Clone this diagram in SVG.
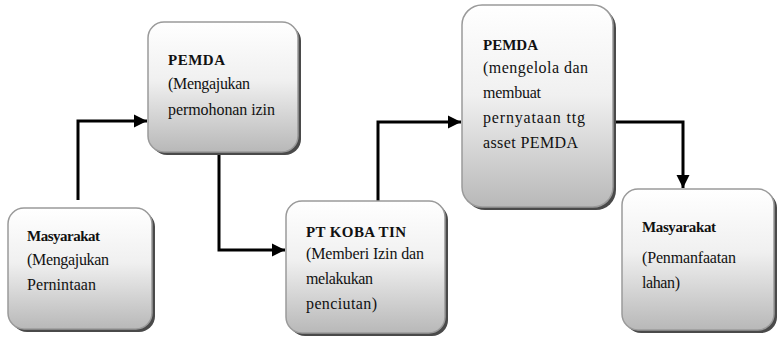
<svg xmlns="http://www.w3.org/2000/svg" width="778" height="342" viewBox="0 0 778 342">
<defs>
<linearGradient id="g" x1="0" y1="0" x2="0" y2="1">
<stop offset="0" stop-color="#ffffff"/>
<stop offset="0.45" stop-color="#f0f0f0"/>
<stop offset="1" stop-color="#b8b8b8"/>
</linearGradient>
<marker id="ah" viewBox="0 0 10 10" refX="10" refY="5" markerWidth="4.5" markerHeight="4.5" orient="auto" markerUnits="strokeWidth">
<path d="M0,0 L10,5 L0,10 z" fill="#000"/>
</marker>
</defs>
<style>
.sh{fill:#4a4a4a}
.bx{fill:url(#g);stroke:#9a9a9a;stroke-width:1.5}
.t{font-family:"Liberation Serif","Times New Roman",serif;font-size:16px;fill:#111}
.b{font-weight:bold;font-size:15px}
.c{fill:none;stroke:#000;stroke-width:3;marker-end:url(#ah)}
</style>
<g id="connectors">
<path class="c" d="M78,200 V121 H147"/>
<path class="c" d="M219,152 V250 H285"/>
<path class="c" d="M378,201 V122 H461"/>
<path class="c" d="M613,122 H683 V188"/>
</g>
<g id="n1">
<rect class="sh" x="11" y="211" width="144" height="121" rx="16"/>
<rect class="bx" x="8" y="208" width="144" height="121" rx="16"/>
<text class="t b" x="27" y="241" textLength="73">Masyarakat</text>
<text class="t" x="27" y="265" textLength="82">(Mengajukan</text>
<text class="t" x="27" y="290" textLength="69">Pernintaan</text>
</g>
<g id="n2">
<rect class="sh" x="151" y="25" width="150" height="130" rx="16"/>
<rect class="bx" x="148" y="22" width="150" height="130" rx="16"/>
<text class="t b" x="168" y="65" textLength="57">PEMDA</text>
<text class="t" x="168" y="89" textLength="82">(Mengajukan</text>
<text class="t" x="168" y="115" textLength="107">permohonan izin</text>
</g>
<g id="n3">
<rect class="sh" x="289" y="204" width="159" height="132" rx="16"/>
<rect class="bx" x="286" y="201" width="159" height="132" rx="16"/>
<text class="t b" x="306" y="237" textLength="100">PT KOBA TIN</text>
<text class="t" x="306" y="259" textLength="118">(Memberi Izin dan</text>
<text class="t" x="306" y="284" textLength="67">melakukan</text>
<text class="t" x="306" y="309" textLength="71">penciutan)</text>
</g>
<g id="n4">
<rect class="sh" x="465" y="8" width="151" height="202" rx="20"/>
<rect class="bx" x="462" y="5" width="151" height="202" rx="20"/>
<text class="t b" x="483" y="50" textLength="55">PEMDA</text>
<text class="t" x="483" y="73" textLength="105">(mengelola dan</text>
<text class="t" x="483" y="98" textLength="58">membuat</text>
<text class="t" x="483" y="123" textLength="102">pernyataan ttg</text>
<text class="t" x="483" y="148" textLength="95">asset PEMDA</text>
</g>
<g id="n5">
<rect class="sh" x="625" y="192" width="152" height="141" rx="16"/>
<rect class="bx" x="622" y="189" width="152" height="141" rx="16"/>
<text class="t b" x="642" y="232" textLength="74">Masyarakat</text>
<text class="t" x="642" y="263" textLength="94">(Penmanfaatan</text>
<text class="t" x="642" y="288" textLength="38">lahan)</text>
</g>
</svg>
